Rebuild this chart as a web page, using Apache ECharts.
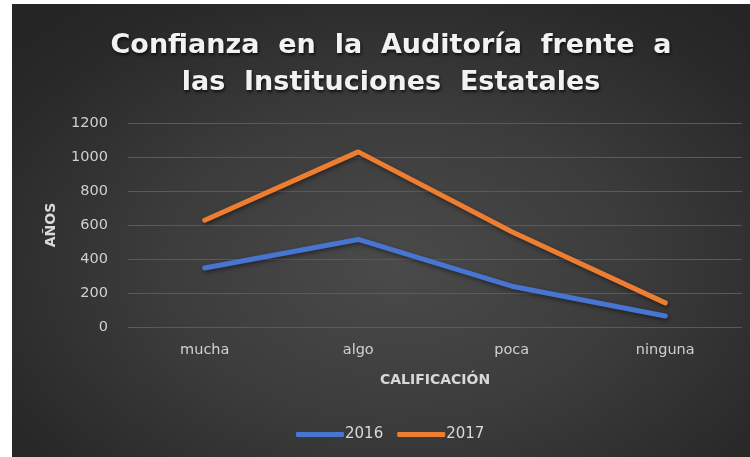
<!DOCTYPE html>
<html>
<head>
<meta charset="utf-8">
<script src="https://cdn.jsdelivr.net/npm/echarts@6/dist/echarts.min.js"></script>
<style>
html,body{margin:0;padding:0;background:#fff;width:750px;height:457px;overflow:hidden;}
#bg{position:absolute;left:12px;top:4px;width:738px;height:453px;
background:radial-gradient(ellipse 70% 75% at 52% 58%, #4a4a4a 0%, #3c3c3c 45%, #292929 85%, #252525 100%);}
#c{position:absolute;left:0;top:0;width:750px;height:457px;}
</style>
</head>
<body>
<div id="bg"></div>
<div id="c"></div>
<script>
const titleText = 'Confianza  en  la  Auditoría  frente  a\nlas  Instituciones  Estatales';
const categories = ['mucha', 'algo', 'poca', 'ninguna'];
const seriesNames = ['2016', '2017'];
const values2016 = [347, 515, 240, 65];
const values2017 = [628, 1030, 560, 142];
const yAxisName = 'AÑOS';
const xAxisName = 'CALIFICACIÓN';

const chart = echarts.init(document.getElementById('c'), null, {renderer: 'canvas'});
const shadow = {shadowColor: 'rgba(0,0,0,0.45)', shadowBlur: 4, shadowOffsetX: 1, shadowOffsetY: 2};
chart.setOption({
  backgroundColor: 'transparent',
  animation: false,
  title: {
    text: titleText,
    left: 386, top: 22, textAlign: 'center',
    textStyle: {
      color: '#f2f2f2', fontFamily: 'DejaVu Sans', fontWeight: 'bold', fontSize: 27, lineHeight: 37,
      textShadowColor: 'rgba(0,0,0,0.7)', textShadowBlur: 3, textShadowOffsetX: 1, textShadowOffsetY: 2
    }
  },
  legend: {
    data: seriesNames,
    left: 291, top: 422,
    icon: 'roundRect', itemWidth: 48, itemHeight: 5, itemGap: 14,
    textStyle: {color: '#d9d9d9', fontFamily: 'DejaVu Sans', fontSize: 15, padding: [0,0,0,-4]}
  },
  grid: {left: 128, right: 8, top: 123, bottom: 130, containLabel: false},
  xAxis: {
    type: 'category', data: categories, boundaryGap: true,
    name: xAxisName, nameLocation: 'middle', nameGap: 46,
    nameTextStyle: {color: '#d9d9d9', fontFamily: 'DejaVu Sans', fontWeight: 'bold', fontSize: 14},
    axisLine: {show: false}, axisTick: {show: false},
    axisLabel: {color: '#d0d0d0', fontFamily: 'DejaVu Sans', fontSize: 14.5, margin: 16}
  },
  yAxis: {
    type: 'value', min: 0, max: 1200, interval: 200,
    name: yAxisName, nameLocation: 'middle', nameGap: 70, nameRotate: 90,
    nameTextStyle: {color: '#d9d9d9', fontFamily: 'DejaVu Sans', fontWeight: 'bold', fontSize: 14},
    axisLine: {show: false}, axisTick: {show: false},
    axisLabel: {color: '#d0d0d0', fontFamily: 'DejaVu Sans', fontSize: 14.5, margin: 20,
      formatter: function (v) { return String(v); }},
    splitLine: {lineStyle: {color: '#5a5a5a', width: 1}}
  },
  series: [
    {name: seriesNames[0], type: 'line', data: values2016, symbol: 'none',
     itemStyle: {color: '#4775d1'}, lineStyle: Object.assign({color: '#4775d1', width: 5, cap: 'round', join: 'round'}, shadow)},
    {name: seriesNames[1], type: 'line', data: values2017, symbol: 'none',
     itemStyle: {color: '#ed7d31'}, lineStyle: Object.assign({color: '#ed7d31', width: 5, cap: 'round', join: 'round'}, shadow)}
  ]
});
</script>
</body>
</html>
